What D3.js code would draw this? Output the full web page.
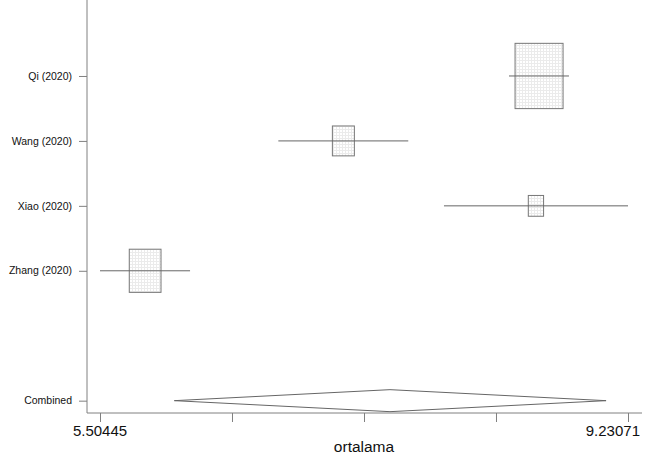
<!DOCTYPE html>
<html>
<head>
<meta charset="utf-8">
<script src="https://cdn.jsdelivr.net/npm/d3@7"></script>
<style>
  body { margin: 0; background: #fff; }
  text { font-family: "Liberation Sans", Arial, sans-serif; fill: #111; }
</style>
</head>
<body>
<svg id="chart"></svg>
<script>
const width = 654;
const height = 462;

// study data
const studies = ["Qi (2020)", "Wang (2020)", "Xiao (2020)", "Zhang (2020)"];
const estimates = [8.603, 7.222, 8.581, 5.823];
const lower = [8.391, 6.763, 7.932, 5.50445];
const upper = [8.814, 7.680, 9.23071, 6.140];
const weights = [57.2, 12.0, 5.8, 25.0];

const combined = { label: "Combined", est: 7.551, lo: 6.029, hi: 9.076 };
const xTicks = [5.50445, 6.43601, 7.36758, 8.29914, 9.23071];
const xTitle = "ortalama";

const svg = d3.select("#chart")
  .attr("width", width)
  .attr("height", height);

const x = d3.scaleLinear()
  .domain([5.50445, 9.23071])
  .range([100, 628]);

// row positions: studies 1..4, combined at 6
const y = d3.scaleLinear()
  .domain([-0.17, 6.19])
  .range([0, 413]);

const rows = studies.map((s, i) => ({
  name: s, est: estimates[i], lo: lower[i], hi: upper[i], w: weights[i], pos: i + 1
}));

const boxW = d3.scaleSqrt().domain([0, d3.max(weights)]).range([0, 48]);
const aspect = 1.36;

// hatch pattern for the weight boxes
const defs = svg.append("defs");
const pat = defs.append("pattern")
  .attr("id", "grid")
  .attr("patternUnits", "userSpaceOnUse")
  .attr("width", 3)
  .attr("height", 3);
pat.append("rect").attr("width", 3).attr("height", 3).attr("fill", "#fff");
pat.append("path")
  .attr("d", "M0,0.5H3M0.5,0V3")
  .attr("stroke", "#ebebeb")
  .attr("stroke-width", 1);

const gray = "#808080";

// axes
const xAxis = svg.append("g")
  .attr("transform", `translate(0,${y(6.19)})`)
  .call(d3.axisBottom(x).tickValues(xTicks).tickSize(9).tickFormat(""));
xAxis.select(".domain").remove();
xAxis.selectAll("line").attr("stroke", gray);
xAxis.append("line")
  .attr("x1", 87).attr("x2", 642)
  .attr("stroke", gray);

const yAxis = svg.append("g")
  .attr("transform", "translate(87,0)")
  .call(d3.axisLeft(y).tickValues([1, 2, 3, 4, 6]).tickSize(8).tickFormat(""));
yAxis.select(".domain").remove();
yAxis.selectAll("line").attr("stroke", gray);
yAxis.append("line")
  .attr("y1", 0).attr("y2", y(6.19))
  .attr("stroke", gray);

// y labels
svg.append("g")
  .selectAll("text")
  .data(rows.map(d => ({ name: d.name, pos: d.pos })).concat([{ name: combined.label, pos: 6 }]))
  .join("text")
    .attr("x", 72)
    .attr("y", d => y(d.pos))
    .attr("dy", "0.35em")
    .attr("text-anchor", "end")
    .attr("font-size", 10.5)
    .text(d => d.name);

// x end labels (the last one is pulled inside the frame)
svg.append("text")
  .attr("x", x(xTicks[0]))
  .attr("y", 436)
  .attr("text-anchor", "middle")
  .attr("font-size", 15)
  .text(xTicks[0]);

svg.append("text")
  .attr("x", 640)
  .attr("y", 436)
  .attr("text-anchor", "end")
  .attr("font-size", 15)
  .text(xTicks[xTicks.length - 1]);

svg.append("text")
  .attr("x", 364)
  .attr("y", 452)
  .attr("text-anchor", "middle")
  .attr("font-size", 15.5)
  .text(xTitle);

// boxes
svg.append("g")
  .selectAll("rect")
  .data(rows)
  .join("rect")
    .attr("x", d => x(d.est) - boxW(d.w) / 2)
    .attr("y", d => y(d.pos) - boxW(d.w) * aspect / 2)
    .attr("width", d => boxW(d.w))
    .attr("height", d => boxW(d.w) * aspect)
    .attr("fill", "url(#grid)")
    .attr("stroke", "#777")
    .attr("stroke-width", 1);

// confidence intervals
svg.append("g")
  .selectAll("line")
  .data(rows)
  .join("line")
    .attr("x1", d => x(d.lo))
    .attr("x2", d => x(d.hi))
    .attr("y1", d => y(d.pos))
    .attr("y2", d => y(d.pos))
    .attr("stroke", "#666")
    .attr("stroke-width", 1);

// combined diamond
const dh = 11;
const cy = y(6);
svg.append("path")
  .attr("d", `M${x(combined.lo)},${cy}L${x(combined.est)},${cy - dh}L${x(combined.hi)},${cy}L${x(combined.est)},${cy + dh}Z`)
  .attr("fill", "none")
  .attr("stroke", "#666")
  .attr("stroke-width", 1);
</script>
</body>
</html>
